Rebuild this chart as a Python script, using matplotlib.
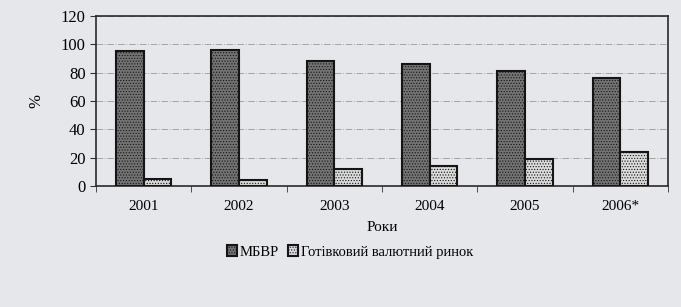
import numpy as np
import matplotlib.pyplot as plt
import matplotlib as mpl

plt.rcParams['font.family'] = ['Liberation Serif', 'DejaVu Serif']
mpl.rcParams['hatch.linewidth'] = 0.5

years = ['2001', '2002', '2003', '2004', '2005', '2006*']
mbvr = [95, 96, 88, 86, 81, 76]
cash = [5, 4, 12, 14, 19, 24]
series_names = ['МБВР', 'Готівковий валютний ринок']

bg = '#e5e7ea'
fig = plt.figure(figsize=(6.81, 3.07), dpi=100, facecolor=bg)
ax = fig.add_axes([0.141, 0.394, 0.840, 0.554])
ax.set_facecolor(bg)

x = np.arange(len(years))
w = 0.29
mpl.rcParams['hatch.color'] = '#505050'
b1 = ax.bar(x - w / 2, mbvr, w, color='#737373', edgecolor='#151515',
            linewidth=1.5, hatch='......', label=series_names[0], zorder=3)
mpl.rcParams['hatch.color'] = '#9a9a9a'
b2 = ax.bar(x + w / 2, cash, w, color='#dadada', edgecolor='#151515',
            linewidth=1.5, hatch='......', label=series_names[1], zorder=3)

ax.set_ylim(0, 120)
ax.set_xlim(-0.5, len(years) - 0.5)
ax.set_yticks(range(0, 121, 20))
ax.yaxis.grid(True, linestyle=(0, (8, 2, 1, 2)), color='#9a9a9a', linewidth=0.6, zorder=0)
ax.set_xticks(x)
ax.set_xticklabels(years, fontsize=11)
ax.set_xticks(np.arange(-0.5, len(years)), minor=True)
ax.tick_params(axis='x', which='major', length=0, pad=10)
ax.tick_params(axis='x', which='minor', length=4, direction='out', color='#333333')
ax.tick_params(axis='y', labelsize=12, length=4, direction='out', color='#333333')
for s in ax.spines.values():
    s.set_color('#2a2a2a')
    s.set_linewidth(1.2)

ax.set_xlabel('Роки', fontsize=11, labelpad=6)
ax.set_ylabel('%', fontsize=12, labelpad=12)

fig.legend(handles=[b1, b2], loc='center', bbox_to_anchor=(350 / 681, 0.179),
           ncol=2, frameon=False, fontsize=10.5, handlelength=0.7, handleheight=0.7,
           handletextpad=0.2, columnspacing=0.6)

fig.savefig('out.png', dpi=100, facecolor=bg)
